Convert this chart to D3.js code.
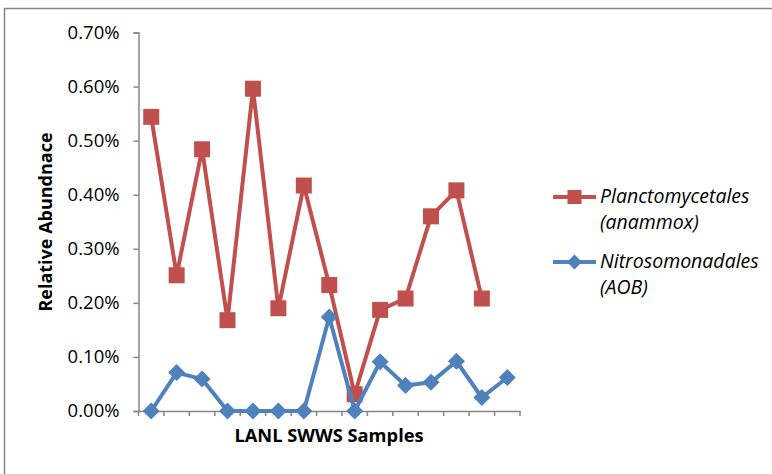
<!DOCTYPE html>
<html><head><meta charset="utf-8">
<script src="https://cdn.jsdelivr.net/npm/d3@7"></script>
<style>body{margin:0;background:#fff}svg{display:block}text{font-family:"Open Sans",sans-serif}</style>
</head><body>
<script>
const samples = d3.range(1, 16).map(String);
const planctomycetales = [0.544,0.251,0.484,0.168,0.596,0.190,0.417,0.233,0.031,0.187,0.208,0.360,0.408,0.208];
const nitrosomonadales = [0.000,0.071,0.059,0.000,0.000,0.000,0.000,0.174,0.000,0.091,0.047,0.053,0.092,0.025,0.062];
const yTicks = [0,0.1,0.2,0.3,0.4,0.5,0.6,0.7];
const seriesNames = [["Planctomycetales","(anammox)"],["Nitrosomonadales","(AOB)"]];
const colors = ["#C0504D","#4F81BD"];

const W=772,H=474;
const svg=d3.select("body").append("svg").attr("width",W).attr("height",H);
svg.append("rect").attr("x",4.5).attr("y",8.5).attr("width",W+10).attr("height",H+10)
  .attr("fill","#fff").attr("stroke","#868686").attr("stroke-width",1.5);

const x0=138.5,x1=520,y0=411,y1=32.5;
const x=d3.scaleBand().domain(samples).range([x0,x1]);
const y=d3.scaleLinear().domain([0,0.7]).range([y0,y1]);

// y axis
const ya=svg.append("g").attr("transform",`translate(${x0},0)`)
  .call(d3.axisLeft(y).tickValues(yTicks).tickSize(5).tickPadding(14).tickFormat(d=>d.toFixed(2)+"%"));
ya.select(".domain").attr("stroke","#868686").attr("stroke-width",1.5);
ya.selectAll(".tick line").attr("stroke","#868686").attr("stroke-width",1.5);
ya.selectAll(".tick text").attr("font-size",18.5).attr("fill","#000").attr("font-family","Open Sans");

// x axis
const xa=svg.append("g").attr("transform",`translate(0,${y0})`)
  .call(d3.axisBottom(x).tickSize(0).tickFormat(""));
xa.select(".domain").attr("stroke","#868686").attr("stroke-width",1.5);
xa.selectAll(".tick").remove();
const bounds = samples.map(s=>x(s)).concat([x1]);
xa.selectAll("line.tk").data(bounds).enter().append("line").attr("class","tk")
  .attr("x1",d=>d).attr("x2",d=>d).attr("y1",0).attr("y2",5)
  .attr("stroke","#868686").attr("stroke-width",1.5);

const cx = (d,i)=>x(samples[i])+x.bandwidth()/2;

// titles
svg.append("text").attr("x",329).attr("y",442).attr("text-anchor","middle")
  .attr("font-weight","bold").attr("font-size",18.3).text("LANL SWWS Samples");
svg.append("text").attr("transform","translate(52,222) rotate(-90)").attr("text-anchor","middle")
  .attr("font-weight","bold").attr("font-size",18).text("Relative Abundnace");

const line=d3.line().x(cx).y(d=>y(d));
// series 1: red squares
svg.append("path").datum(planctomycetales).attr("d",line).attr("fill","none")
  .attr("stroke",colors[0]).attr("stroke-width",4).attr("stroke-linejoin","round");
svg.selectAll("rect.sq").data(planctomycetales).enter().append("rect").attr("class","sq")
  .attr("x",(d,i)=>cx(d,i)-8).attr("y",d=>y(d)-8).attr("width",16).attr("height",16)
  .attr("fill",colors[0]);
// series 2: blue diamonds
svg.append("path").datum(nitrosomonadales).attr("d",line).attr("fill","none")
  .attr("stroke",colors[1]).attr("stroke-width",4).attr("stroke-linejoin","round");
const dia = "M0,-8.5L8.5,0L0,8.5L-8.5,0Z";
svg.selectAll("path.dm").data(nitrosomonadales).enter().append("path").attr("class","dm")
  .attr("d",dia).attr("transform",(d,i)=>`translate(${cx(d,i)},${y(d)})`).attr("fill",colors[1]);

// legend
const leg=[{y:197,sym:"sq"},{y:262,sym:"dm"}];
leg.forEach((l,k)=>{
  const g=svg.append("g");
  g.append("line").attr("x1",553).attr("x2",596).attr("y1",l.y).attr("y2",l.y)
    .attr("stroke",colors[k]).attr("stroke-width",4);
  if(l.sym==="sq") g.append("rect").attr("x",574.5-7).attr("y",l.y-7).attr("width",14).attr("height",14).attr("fill",colors[k]);
  else g.append("path").attr("d","M0,-7.5L7.5,0L0,7.5L-7.5,0Z").attr("transform",`translate(574.5,${l.y})`).attr("fill",colors[k]);
  const t=g.append("text").attr("x",600).attr("y",l.y+6).attr("font-style","italic").attr("font-size",19.5);
  t.append("tspan").attr("x",600).text(seriesNames[k][0]);
  t.append("tspan").attr("x",600).attr("dy",25.5).text(seriesNames[k][1]);
});
</script>
</body></html>
